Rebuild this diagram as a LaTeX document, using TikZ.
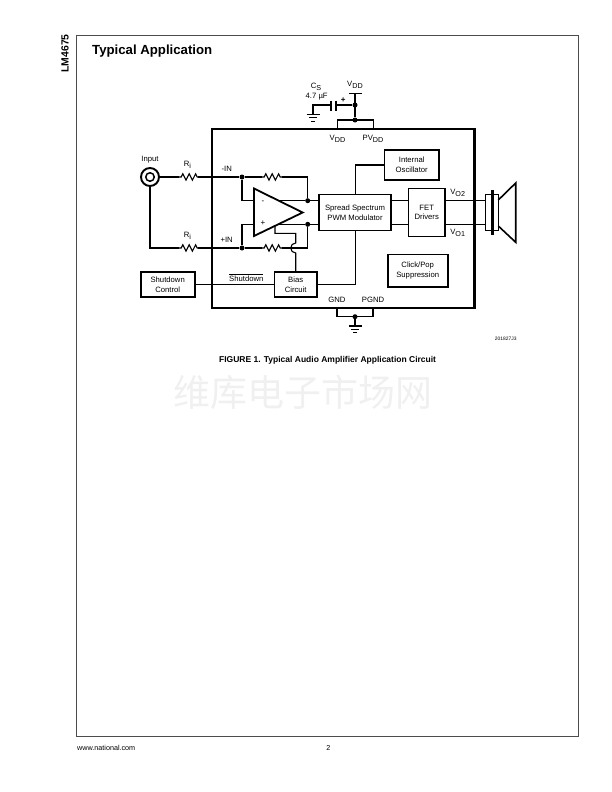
\documentclass[tikz,border=0pt]{standalone}
\usepackage{fontspec}
\setmainfont{Liberation Sans}
\newfontfamily\cjkserif{Noto Sans CJK SC}
\usetikzlibrary{positioning}
\newcommand{\subs}[2]{#1\raisebox{-2.2pt}{\fontsize{7.2}{8}\selectfont #2}}
\tikzset{
  icbox/.style={draw, line width=1.8pt, align=center, font=\fontsize{7.7}{9.7}\selectfont, inner sep=0pt},
  lab/.style={inner sep=0pt, font=\fontsize{7.7}{9}\selectfont, align=center},
  wire/.style={line width=1.1pt},
  dot/.style={circle, fill=black, inner sep=0pt, minimum size=5pt},
  gndline/.style={line width=1.1pt}
}
\newcommand{\resistor}[3]{% x start, x end, y
  \draw[wire] ({#1},#3) -- ++(2.2,0) -- ++(1.6,-3.2) -- ++(3.2,6.4) -- ++(3.2,-6.4) -- ++(3.2,6.4) -- ++(3.2,-6.4) -- ++(1.6,3.2) -- ({#2},#3);
}
\newcommand{\ground}[2]{% x, y of the top bar
  \draw[gndline] (#1-6.5,#2) -- (#1+6.5,#2);
  \draw[gndline] (#1-4,#2+3.4) -- (#1+4,#2+3.4);
  \draw[gndline] (#1-2,#2+6.8) -- (#1+2,#2+6.8);
}
\begin{document}
\begin{tikzpicture}[x=1pt, y=-1pt]
\useasboundingbox (0,0) rectangle (612,792);
% page frame
\draw[line width=1pt, color=black!70] (76.5,36) rectangle (578.7,736.6);
\node[lab, font=\bfseries\fontsize{10.4}{11}\selectfont, rotate=90] (partno) at (65,53.5) {LM4675};
\node[lab, font=\bfseries\fontsize{13.2}{14}\selectfont, anchor=west] (title) at (92,51) {Typical Application};
\node[lab, font=\fontsize{7.2}{8}\selectfont, anchor=west] (web) at (77,747.7) {www.national.com};
\node[lab, font=\fontsize{7.2}{8}\selectfont] (pageno) at (328.3,747.7) {2};
\node[lab, font=\bfseries\fontsize{8.5}{9}\selectfont] (caption) at (327.6,360) {FIGURE 1. Typical Audio Amplifier Application Circuit};
\node[lab, font=\fontsize{4.9}{5}\selectfont, anchor=east] (code) at (516.7,339) {201827J3};
\node[lab, font=\cjkserif\fontsize{37}{38}\selectfont, color=black!6] (mark) at (303,392) {维库电子市场网};
% chip outline
\node[draw, line width=2.2pt, minimum width=262.5pt, minimum height=178.5pt, inner sep=0pt] (chip) at (343.2,218.5) {};
% blocks
\node[icbox, minimum width=72pt, minimum height=36pt] (pwm) at (355,212.5) {Spread Spectrum\\PWM Modulator};
\node[icbox, minimum width=54.5pt, minimum height=30pt] (osc) at (411.7,165) {Internal\\Oscillator};
\node[icbox, minimum width=36.5pt, minimum height=48pt] (fet) at (426.7,212.5) {FET\\Drivers};
\node[icbox, minimum width=60pt, minimum height=32.5pt] (click) at (417.7,270.7) {Click/Pop\\Suppression};
\node[icbox, minimum width=42.5pt, minimum height=25pt] (bias) at (295.7,284.5) {Bias\\Circuit};
\node[icbox, minimum width=54pt, minimum height=25pt] (sd) at (167.7,284.5) {Shutdown\\Control};
% op amp
\coordinate (ampt) at (254,188.5);
\coordinate (ampb) at (254,236);
\coordinate (ampo) at (302.7,212.5);
\draw[line width=1.8pt, line join=miter] (ampt) -- (ampo) -- (ampb) -- cycle;
\node[lab, font=\fontsize{8}{9}\selectfont] (minus) at (263,202) {-};
\node[lab, font=\fontsize{8}{9}\selectfont] (plus) at (263,223.5) {+};
% input jack
\node[draw, circle, line width=1.9pt, minimum size=18pt, inner sep=0pt] (jack) at (150,177) {};
\node[draw, circle, line width=1.5pt, minimum size=8.5pt, inner sep=0pt] (jackin) at (150,177) {};
\node[lab] (input) at (150,160) {Input};
% junctions
\node[dot] (inm) at (242,177) {};
\node[dot] (inp) at (242,248) {};
\node[dot] (fbm) at (307.7,200.7) {};
\node[dot] (fbp) at (307.7,224.3) {};
\node[dot] (vdd) at (355,105) {};
\node[dot] (vddb) at (355,120) {};
\node[dot] (gnd) at (355,316.7) {};
% input side
\draw[wire] (jack.east) -- (179,177);
\resistor{179}{198}{177}
\draw[wire] (198,177) -- (inm);
\draw[wire] (jack.south) -- (150,248) -- (179,248);
\resistor{179}{198}{248}
\draw[wire] (198,248) -- (inp);
\resistor{262}{282}{177}
\resistor{262}{282}{248}
\draw[wire] (inm) -- (262,177);
\draw[wire] (inp) -- (262,248);
\draw[wire] (282,177) -- (307.7,177) -- (fbm);
\draw[wire] (inm) -- (242,200.7) -- (254,200.7);
\draw[wire] (inp) -- (242,224.3) -- (254,224.3);
\draw[wire] (282,248) -- (307.7,248) -- (fbp);
\draw[wire] (279,200.7) -- (fbm) -- (pwm.west |- fbm);
\draw[wire] (279,224.3) -- (fbp) -- (pwm.west |- fbp);
% bias to amp, with the hop
\draw[wire] (275,226) -- (275,233.3) -- (295.7,233.3) -- (295.7,243) arc (270:90:5) -- (bias.north);
% control lines
\draw[wire] (sd.east) -- (bias.west);
\draw[wire] (bias.east) -- (355.3,284.5) -- (355.3,230.5);
\draw[wire] (355.3,194.5) -- (355.3,165) -- (osc.west);
\draw[wire] (pwm.east |- fbm) -- (fet.west |- fbm);
\draw[wire] (pwm.east |- fbp) -- (fet.west |- fbp);
% speaker
\node[draw, line width=1.5pt, minimum width=12.6pt, minimum height=36pt, inner sep=0pt, fill=white] (coil) at (492,212.5) {};
\node[fill=black, minimum width=3.6pt, minimum height=45pt, inner sep=0pt] (bar) at (492.3,212.5) {};
\draw[line width=1.6pt, line join=miter] (498.3,200) -- (515.7,183) -- (515.7,242.3) -- (498.3,226);
\draw[wire] (fet.east |- fbm) -- (coil.west |- fbm);
\draw[wire] (fet.east |- fbp) -- (coil.west |- fbp);
% supply
\draw[wire] (337.3,128.5) -- (337.3,120) -- (373.3,120) -- (373.3,128.5);
\draw[wire] (349,93.3) -- (361.7,93.3);
\draw[wire] (355,93.3) -- (vddb);
\draw[wire] (vdd) -- (335.7,105);
\draw[line width=1.6pt] (335.7,100.5) -- (335.7,110.5);
\draw[line width=1.1pt] (331,100.5) -- (331,110.5);
\draw[wire] (331,105) -- (313,105) -- (313,114.5);
\ground{313}{114.5}
\node[lab] (cs) at (316,86.5) {\subs{C}{S}};
\node[lab] (csv) at (316.7,97) {4.7 µF};
\node[lab, font=\bfseries\fontsize{8}{9}\selectfont] (csp) at (343.3,100) {+};
\node[lab] (vddt) at (355,85) {\subs{V}{DD}};
\node[lab] (vddl) at (337.5,139) {\subs{V}{DD}};
\node[lab] (pvddl) at (373,138.5) {\subs{PV}{DD}};
% ground
\draw[wire] (337,308) -- (337,316.7) -- (373,316.7) -- (373,308);
\draw[wire] (gnd) -- (355,326);
\ground{355}{326}
\node[lab] (gndl) at (337,300) {GND};
\node[lab] (pgndl) at (373,300) {PGND};
% pin labels
\node[lab] (ri1) at (187.5,165) {\subs{R}{i}};
\node[lab] (ri2) at (187.5,235.7) {\subs{R}{i}};
\node[lab] (inml) at (226.7,169) {-IN};
\node[lab] (inpl) at (226.7,240.3) {+IN};
\node[lab] (sdl) at (246.3,277.5) {$\overline{\mbox{Shutdown}}$};
\node[lab] (vo2) at (457.7,192.7) {\subs{V}{O2}};
\node[lab] (vo1) at (457.7,232.7) {\subs{V}{O1}};
\end{tikzpicture}
\end{document}
